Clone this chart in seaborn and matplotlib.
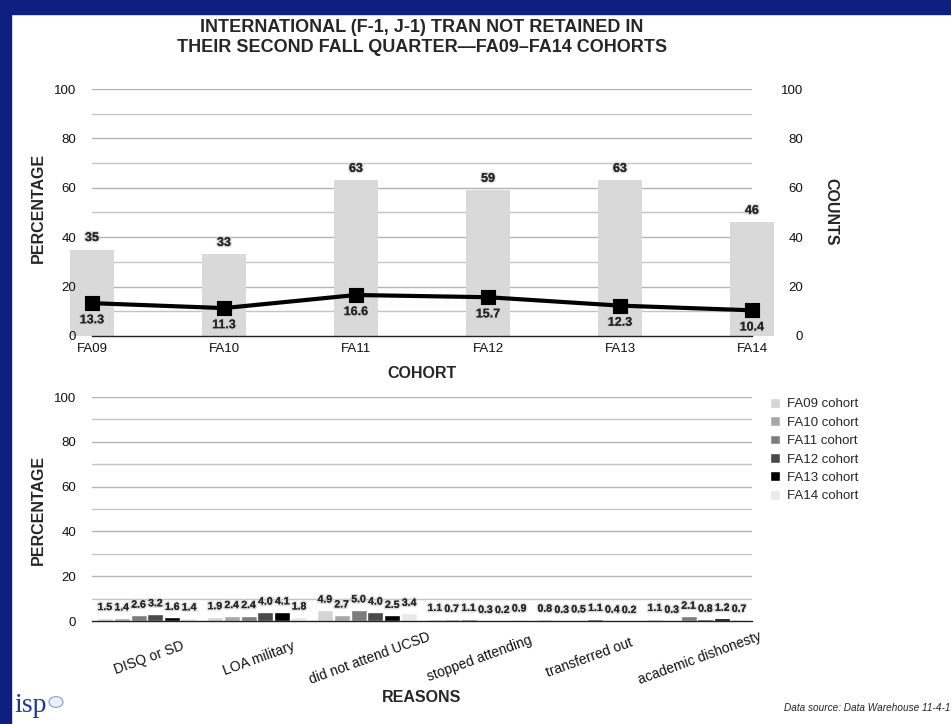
import matplotlib
matplotlib.use("Agg")
import matplotlib.pyplot as plt
import matplotlib.patheffects as pe
from matplotlib.patches import Rectangle, Circle
import seaborn as sns
import pandas as pd
import numpy as np

# ---------------- data ----------------
cohorts = ["FA09", "FA10", "FA11", "FA12", "FA13", "FA14"]
counts = [35, 33, 63, 59, 63, 46]
pct_not_retained = [13.3, 11.3, 16.6, 15.7, 12.3, 10.4]

reasons = ["DISQ or SD", "LOA military", "did not attend UCSD",
           "stopped attending", "transferred out", "academic dishonesty"]
cohort_labels = ["FA09 cohort", "FA10 cohort", "FA11 cohort",
                 "FA12 cohort", "FA13 cohort", "FA14 cohort"]
fa09 = [1.5, 1.9, 4.9, 1.1, 0.8, 1.1]
fa10 = [1.4, 2.4, 2.7, 0.7, 0.3, 0.3]
fa11 = [2.6, 2.4, 5.0, 1.1, 0.5, 2.1]
fa12 = [3.2, 4.0, 4.0, 0.3, 1.1, 0.8]
fa13 = [1.6, 4.1, 2.5, 0.2, 0.4, 1.2]
fa14 = [1.4, 1.8, 3.4, 0.9, 0.2, 0.7]
cohort_colors = ["#d4d4d4", "#a8a8a8", "#7d7d7d", "#4a4a4a", "#000000", "#e9e9e9"]

sns.set_theme(style="white")
plt.rcParams["font.family"] = ["Liberation Sans", "DejaVu Sans"]

W, H = 951, 724
fig = plt.figure(figsize=(W / 100, H / 100), dpi=100)
fig.patch.set_facecolor("white")
navy = "#0d1f80"
fig.patches.append(Rectangle((0, 0), 11 / W, 1, transform=fig.transFigure,
                             color=navy, zorder=0))
fig.patches.append(Rectangle((0, 1 - 14 / H), 1, 14 / H, transform=fig.transFigure,
                             color=navy, zorder=0))

glow = [pe.withStroke(linewidth=2.2, foreground="#d0d0d0", alpha=0.7), pe.Normal()]
TICK = 9.5
AXT = 11.5

def style_grid(ax):
    ax.set_ylim(0, 100)
    ax.set_yticks(np.arange(0, 101, 20))
    ax.grid(False)
    ax.set_axisbelow(False)
    for y in np.arange(10, 101, 10):
        ax.axhline(y, color="#c4c4c4" if y % 20 else "#b4b4b4", lw=1.0, zorder=0.5)
    for s in ["top", "right", "left"]:
        ax.spines[s].set_visible(False)
    ax.spines["bottom"].set_color("#222222")
    ax.spines["bottom"].set_linewidth(1.0)
    ax.tick_params(axis="both", which="both", length=0, labelsize=TICK, colors="#111111")
    ax.tick_params(axis="y", pad=11.5)

# ---------------- top chart ----------------
ax1 = fig.add_axes([92 / W, 1 - 336 / H, 660 / W, 247 / H])
df_top = pd.DataFrame({"cohort": cohorts, "count": counts, "pct": pct_not_retained})
sns.barplot(data=df_top, x="cohort", y="count", color="#d9d9d9", width=0.33,
            saturation=1, ax=ax1, zorder=1)
for p in ax1.patches:
    p.set_clip_on(False)
    p.set_edgecolor("none")
sns.pointplot(data=df_top, x="cohort", y="pct", color="black", markers="s",
              markersize=9, linewidth=3.0, ax=ax1, zorder=3)
for l in ax1.lines:
    l.set_clip_on(False)
    l.set_zorder(3)
style_grid(ax1)
ax1.set_xlim(0, 5)
ax1.set_xlabel("")
ax1.set_ylabel("")
ax1.tick_params(axis="x", pad=5)
for i, (c, v) in enumerate(zip(counts, pct_not_retained)):
    ax1.annotate(f"{c}", (i, c), xytext=(0, 4), textcoords="offset points",
                 ha="center", va="bottom", fontsize=9, fontweight="bold",
                 path_effects=glow, annotation_clip=False, zorder=4)
    ax1.annotate(f"{v:.1f}", (i, v), xytext=(0, -8), textcoords="offset points",
                 ha="center", va="top", fontsize=9, fontweight="bold",
                 path_effects=glow, annotation_clip=False, zorder=4)
ax1r = ax1.twinx()
ax1r.set_ylim(0, 100)
ax1r.set_yticks(np.arange(0, 101, 20))
ax1r.grid(False)
for s in ax1r.spines.values():
    s.set_visible(False)
ax1r.tick_params(axis="y", length=0, labelsize=TICK, pad=36.7, colors="#111111")
for t in ax1r.get_yticklabels():
    t.set_horizontalalignment("right")

# ---------------- bottom chart ----------------
ax2 = fig.add_axes([92 / W, 1 - 621 / H, 660 / W, 224 / H])
df_bot = pd.DataFrame({"reason": reasons, cohort_labels[0]: fa09, cohort_labels[1]: fa10,
                       cohort_labels[2]: fa11, cohort_labels[3]: fa12,
                       cohort_labels[4]: fa13, cohort_labels[5]: fa14})
long = df_bot.melt(id_vars="reason", var_name="cohort", value_name="pct")
sns.barplot(data=long, x="reason", y="pct", hue="cohort", hue_order=cohort_labels,
            palette=cohort_colors, saturation=1, width=0.92, gap=0.05, ax=ax2, zorder=1)
style_grid(ax2)
ax2.set_xlim(-0.5, 5.5)
for cont in ax2.containers:
    ax2.bar_label(cont, fmt="%.1f", padding=4, fontsize=7.5, fontweight="bold",
                  path_effects=glow)
ax2.set_xlabel("")
ax2.set_ylabel("")
plt.setp(ax2.get_xticklabels(), rotation=20, ha="center", rotation_mode="anchor",
         fontsize=10)
ax2.tick_params(axis="x", pad=22)
leg = ax2.legend(loc="upper left", bbox_to_anchor=((770 - 92) / 660, (621 - 398) / 224),
                 frameon=False, fontsize=TICK, handlelength=0.75, handleheight=0.75,
                 handletextpad=0.55, labelspacing=0.45, borderpad=0, borderaxespad=0)

# ---------------- axis titles ----------------
def ftxt(x, y, s, **kw):
    fig.text(x / W, 1 - y / H, s, ha="center", va="center", **kw)

ftxt(38, 208, "PERCENTAGE", fontsize=AXT, fontweight="bold", rotation=90)
ftxt(38, 510, "PERCENTAGE", fontsize=AXT, fontweight="bold", rotation=90)
ftxt(831, 212, "COUNTS", fontsize=AXT, fontweight="bold", rotation=-90)
ftxt(422, 374, "COHORT", fontsize=AXT, fontweight="bold")
ftxt(422, 698, "REASONS", fontsize=AXT, fontweight="bold")

# ---------------- titles & notes ----------------
ftxt(422, 28, "INTERNATIONAL (F-1, J-1) TRAN NOT RETAINED IN",
     fontsize=13, fontweight="bold")
ftxt(422, 47, "THEIR SECOND FALL QUARTER\u2014FA09\u2013FA14 COHORTS",
     fontsize=13, fontweight="bold")
fig.text(950 / W, 1 - 708 / H, "Data source: Data Warehouse 11-4-1",
         ha="right", va="center", fontsize=7.2, style="italic", color="#222222")
fig.text(14 / W, 1 - 705 / H, "isp", ha="left", va="center", fontsize=20,
         family="Liberation Serif", color="#1f3a8f")
fig.patches.append(Circle((56 / W, 1 - 702 / H), 7 / W,
                          transform=fig.transFigure, facecolor="#eef0f7",
                          edgecolor="#8a9bc9", lw=0.8))

fig.savefig("out.png", dpi=100)
